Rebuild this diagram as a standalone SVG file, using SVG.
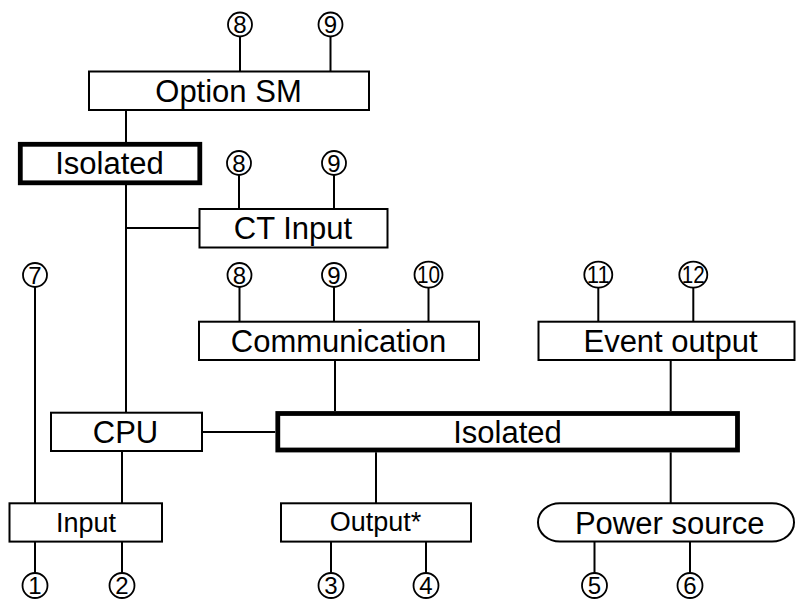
<svg xmlns="http://www.w3.org/2000/svg" width="796" height="601" viewBox="0 0 796 601">
<style>
.box{fill:#fff;stroke:#000;stroke-width:2}
.thick{fill:#fff;stroke:#000;stroke-width:4.8}
.lbl{font-family:"Liberation Sans",Arial,sans-serif;font-size:31px;text-anchor:middle;fill:#000}
.sm{font-size:27px}
.num{font-family:"Liberation Sans",Arial,sans-serif;font-size:24px;text-anchor:middle;fill:#000}
.c{fill:#fff;stroke:#000;stroke-width:1.8}
#connectors line{stroke:#000;stroke-width:2}
</style>
<rect width="796" height="601" fill="#fff"/>
<g id="connectors">
<line x1="240" y1="36.5" x2="240" y2="71.5"/>
<line x1="330.5" y1="36.5" x2="330.5" y2="71.5"/>
<line x1="126" y1="110" x2="126" y2="142"/>
<line x1="126" y1="185" x2="126" y2="412.7"/>
<line x1="126" y1="228" x2="199.5" y2="228"/>
<line x1="239" y1="175" x2="239" y2="209"/>
<line x1="334" y1="175" x2="334" y2="209"/>
<line x1="35" y1="287" x2="35" y2="503.3"/>
<line x1="239.5" y1="287" x2="239.5" y2="321.7"/>
<line x1="334" y1="287" x2="334" y2="321.7"/>
<line x1="428.5" y1="288" x2="428.5" y2="321.7"/>
<line x1="598.3" y1="288" x2="598.3" y2="321.7"/>
<line x1="693.3" y1="288" x2="693.3" y2="321.7"/>
<line x1="335" y1="360" x2="335" y2="411"/>
<line x1="670.7" y1="360" x2="670.7" y2="411"/>
<line x1="202" y1="432" x2="275.3" y2="432"/>
<line x1="122" y1="451" x2="122" y2="503.3"/>
<line x1="376" y1="452.3" x2="376" y2="503.3"/>
<line x1="670.7" y1="452.3" x2="670.7" y2="503.3"/>
<line x1="35" y1="541.6" x2="35" y2="573"/>
<line x1="122" y1="541.6" x2="122" y2="573"/>
<line x1="331" y1="541.6" x2="331" y2="573"/>
<line x1="426" y1="541.6" x2="426" y2="573"/>
<line x1="594.5" y1="541.6" x2="594.5" y2="573"/>
<line x1="690" y1="541.6" x2="690" y2="573"/>
</g>
<g id="option-sm"><rect class="box" x="89" y="71.5" width="280" height="38.5"/><text class="lbl" x="228.5" y="101.5">Option SM</text></g>
<g id="isolated-top"><rect class="thick" x="20.3" y="144.3" width="179.5" height="38.5"/><text class="lbl" x="109.5" y="174.3">Isolated</text></g>
<g id="ct-input"><rect class="box" x="199.5" y="209" width="188" height="38.5"/><text class="lbl" x="293" y="239.3">CT Input</text></g>
<g id="communication"><rect class="box" x="199" y="321.7" width="280" height="38.3"/><text class="lbl" x="338.5" y="352">Communication</text></g>
<g id="event-output"><rect class="box" x="538.5" y="321.7" width="256" height="38.3"/><text class="lbl" x="670.5" y="352">Event output</text></g>
<g id="cpu"><rect class="box" x="51" y="412.7" width="151" height="38.3"/><text class="lbl" x="125.5" y="443">CPU</text></g>
<g id="isolated-main"><rect class="thick" x="277.8" y="413.5" width="459.7" height="36.5"/><text class="lbl" x="507.5" y="442.8">Isolated</text></g>
<g id="input"><rect class="box" x="9.5" y="503.3" width="152.5" height="38.3"/><text class="lbl sm" x="86" y="531.5">Input</text></g>
<g id="output"><rect class="box" x="281" y="503.3" width="190" height="38.3"/><text class="lbl sm" x="375.5" y="531">Output*</text></g>
<g id="power-source"><rect class="box" x="538" y="503.3" width="256" height="38.3" rx="22" ry="19"/><text class="lbl" x="669.7" y="533.5">Power source</text></g>
<g id="t8a"><circle class="c" cx="240" cy="24.5" r="12"/><text class="num" x="240" y="33">8</text></g>
<g id="t9a"><circle class="c" cx="330.5" cy="24.5" r="12"/><text class="num" x="330.5" y="33">9</text></g>
<g id="t8b"><circle class="c" cx="239" cy="163" r="12"/><text class="num" x="239" y="171.5">8</text></g>
<g id="t9b"><circle class="c" cx="334" cy="163" r="12"/><text class="num" x="334" y="171.5">9</text></g>
<g id="t7"><circle class="c" cx="35" cy="275" r="12"/><text class="num" x="35" y="283.5">7</text></g>
<g id="t8c"><circle class="c" cx="239.5" cy="275" r="12"/><text class="num" x="239.5" y="283.5">8</text></g>
<g id="t9c"><circle class="c" cx="334" cy="275" r="12"/><text class="num" x="334" y="283.5">9</text></g>
<g id="t10"><ellipse class="c" cx="428.5" cy="274.7" rx="14" ry="13"/><text class="num" x="428.5" y="283.2" textLength="23" lengthAdjust="spacingAndGlyphs">10</text></g>
<g id="t11"><ellipse class="c" cx="598.3" cy="274.7" rx="14" ry="13"/><text class="num" x="598.3" y="283.2" textLength="23" lengthAdjust="spacingAndGlyphs">11</text></g>
<g id="t12"><ellipse class="c" cx="693.3" cy="274.7" rx="14" ry="13"/><text class="num" x="693.3" y="283.2" textLength="23" lengthAdjust="spacingAndGlyphs">12</text></g>
<g id="t1"><circle class="c" cx="35" cy="585.5" r="12.5"/><text class="num" x="35" y="594">1</text></g>
<g id="t2"><circle class="c" cx="122" cy="585.5" r="12.5"/><text class="num" x="122" y="594">2</text></g>
<g id="t3"><circle class="c" cx="331" cy="585.5" r="12.5"/><text class="num" x="331" y="594">3</text></g>
<g id="t4"><circle class="c" cx="426" cy="585.5" r="12.5"/><text class="num" x="426" y="594">4</text></g>
<g id="t5"><circle class="c" cx="594.5" cy="585.5" r="12.5"/><text class="num" x="594.5" y="594">5</text></g>
<g id="t6"><circle class="c" cx="690" cy="585.5" r="12.5"/><text class="num" x="690" y="594">6</text></g>
</svg>
